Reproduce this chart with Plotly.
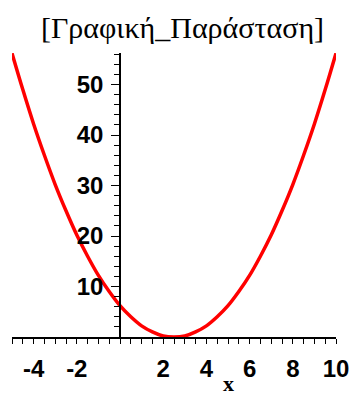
import plotly.graph_objects as go

# Curve values
x_vals = [-5, -4.5, -4, -3.5, -3, -2.5, -2, -1.5, -1, -0.5, 0, 0.5, 1, 1.5, 2, 2.5,
          3, 3.5, 4, 4.5, 5, 5.5, 6, 6.5, 7, 7.5, 8, 8.5, 9, 9.5, 10]
y_vals = [56.2, 49.0, 42.2, 36.0, 30.2, 25.0, 20.2, 16.0, 12.2, 9.0, 6.2, 4.0, 2.2, 1.0, 0.2, 0.0,
          0.2, 1.0, 2.2, 4.0, 6.2, 9.0, 12.2, 16.0, 20.2, 25.0, 30.2, 36.0, 42.2, 49.0, 56.2]

x_ticks = [-4, -2, 2, 4, 6, 8, 10]
y_ticks = [10, 20, 30, 40, 50]
title_text = "[Γραφική_Παράσταση]"
x_label = "x"

fig = go.Figure()
fig.add_trace(go.Scatter(x=x_vals, y=y_vals, mode="lines",
                         line=dict(color="#ff0000", width=3.5, shape="spline"),
                         hoverinfo="skip", showlegend=False, cliponaxis=False))

tick_font = dict(family="Liberation Sans", size=24, color="black", weight="bold")

fig.update_layout(
    width=361, height=394,
    margin=dict(l=12, r=16, t=53, b=54),
    paper_bgcolor="white", plot_bgcolor="white",
    showlegend=False,
    xaxis=dict(range=[-5, 10], domain=[0, 1], showgrid=False, zeroline=False,
               showline=True, linecolor="black", linewidth=1.5,
               tickmode="array", tickvals=x_ticks, ticktext=[str(v) for v in x_ticks],
               ticks="outside", ticklen=5, tickwidth=1, tickcolor="black",
               tickfont=tick_font, ticklabelstandoff=4,
               minor=dict(dtick=0.5, tick0=0, ticks="outside", ticklen=5, tickwidth=1, tickcolor="black"),
               fixedrange=True),
    yaxis=dict(range=[0, 56.25], domain=[0, 1], showgrid=False, zeroline=False,
               anchor="free", position=1/3,
               showline=True, linecolor="black", linewidth=1.5,
               tickmode="array", tickvals=y_ticks, ticktext=[str(v) for v in y_ticks],
               ticks="outside", ticklen=8, tickwidth=1, tickcolor="black",
               tickfont=tick_font, ticklabelstandoff=3,
               minor=dict(dtick=2, tick0=0, ticks="outside", ticklen=5, tickwidth=1, tickcolor="black"),
               fixedrange=True),
    annotations=[
        dict(text=title_text, xref="paper", yref="paper", x=0.525, y=1.0, yshift=26,
             xanchor="center", yanchor="middle", showarrow=False,
             font=dict(family="Liberation Serif", size=30, color="black")),
        dict(text=x_label, xref="x", yref="paper", x=5, y=0, yshift=-46,
             xanchor="center", yanchor="middle", showarrow=False,
             font=dict(family="Liberation Serif", size=22, color="black", weight="bold")),
    ],
)

fig.write_html("out.html")
